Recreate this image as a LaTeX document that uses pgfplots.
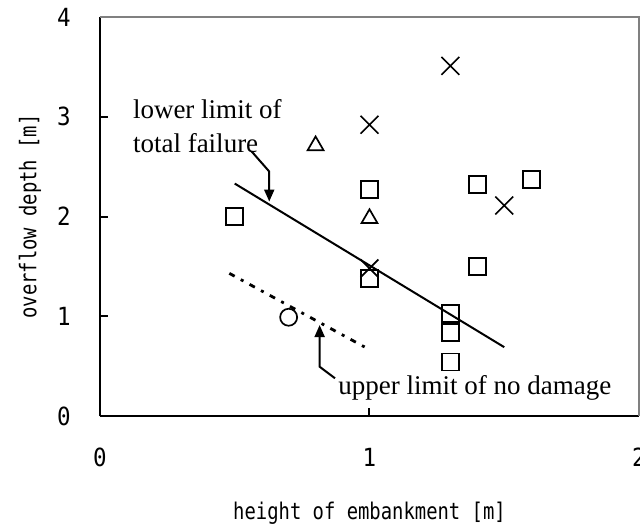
\documentclass[border=0pt]{standalone}
\usepackage{pgfplots}
\pgfplotsset{compat=1.18}
\usepackage{fontspec}
\setmainfont{Liberation Serif}
\newfontfamily\gothic[FakeStretch=0.9]{DejaVu Sans Mono}
\newfontfamily\gothiclabel[FakeStretch=0.82]{DejaVu Sans Mono}
\usetikzlibrary{arrows.meta}
\definecolor{framegray}{RGB}{128,128,128}
\begin{document}
\begin{tikzpicture}
\useasboundingbox (-50bp,-55.5bp) rectangle (270bp,208bp);
\begin{axis}[
    at={(0,0)}, anchor=south west,
    scale only axis,
    width=269.5bp, height=199.5bp,
    xmin=0, xmax=2, ymin=0, ymax=4,
    xtick={0,1,2}, ytick={0,1,2,3,4},
    axis x line*=bottom, axis y line*=left,
    axis line style={line width=1bp, black},
    tick align=inside, major tick length=4bp,
    tick style={line width=1bp, black},
    /pgf/number format/assume math mode=true,
    tick label style={font=\gothic\fontsize{12.5bp}{14bp}\selectfont, inner sep=0pt},
    xticklabel style={yshift=-16bp},
    yticklabel style={xshift=-14.5bp},
    xlabel={height of embankment [m]},
    ylabel={overflow depth [m]},
    label style={font=\gothiclabel\fontsize{11.5bp}{13bp}\selectfont, inner sep=0pt},
    xlabel style={at={(axis description cs:0.5,-0.2155)}, anchor=north},
    ylabel style={at={(axis description cs:-0.1085,0.5)}, anchor=south},
    clip=false,
]

% squares
\addplot[only marks, mark=square, mark size=4.25bp, mark options={line width=0.85bp, black}] coordinates {
(0.5,2.0) (1.0,2.27) (1.0,1.38) (1.3,1.03) (1.3,0.84) (1.3,0.54) (1.4,2.32) (1.4,1.5) (1.6,2.37)
};

% crosses
\addplot[only marks, mark=x, mark size=6.3bp, mark options={line width=0.85bp, black}] coordinates {
(1.3,3.51) (1.0,2.92) (1.0,1.48) (1.5,2.11)
};

% triangles
\addplot[only marks, mark=triangle, mark size=4.6bp, mark options={line width=0.85bp, black}] coordinates {
(0.8,2.71) (1.0,1.98)
};

% circle
\addplot[only marks, mark=o, mark size=4.25bp, mark options={line width=0.85bp, black}] coordinates {
(0.7,0.99)
};

% lower limit of total failure
\addplot[no marks, line width=1bp, black] coordinates {(0.5,2.33) (1.5,0.69)};

% upper limit of no damage
\addplot[no marks, line width=1.4bp, black, dash pattern=on 3bp off 3.5bp on 1.5bp off 3.5bp] coordinates {(0.48,1.43) (0.99,0.68)};

\draw[line width=1bp, framegray] (rel axis cs:0,1) -- (rel axis cs:1,1) -- (rel axis cs:1,0);

\node[anchor=base west, inner sep=0pt, font=\fontsize{13.5bp}{16bp}\selectfont] at (axis cs:0.121,2.984) {lower limit of};
\node[anchor=base west, inner sep=0pt, font=\fontsize{13.5bp}{16bp}\selectfont] at (axis cs:0.121,2.640) {total failure};
\node[anchor=base west, inner sep=0pt, font=\fontsize{13.5bp}{16bp}\selectfont] at (axis cs:0.883,0.211) {upper limit of no damage};

\draw[line width=1bp, -{Triangle[length=6bp,width=5bp]}] (axis cs:0.563,2.651) -- (axis cs:0.628,2.451) -- (axis cs:0.628,2.150);
\draw[line width=1bp, -{Triangle[length=6bp,width=5bp]}] (axis cs:0.872,0.378) -- (axis cs:0.815,0.494) -- (axis cs:0.815,0.912);

\end{axis}
\end{tikzpicture}
\end{document}
